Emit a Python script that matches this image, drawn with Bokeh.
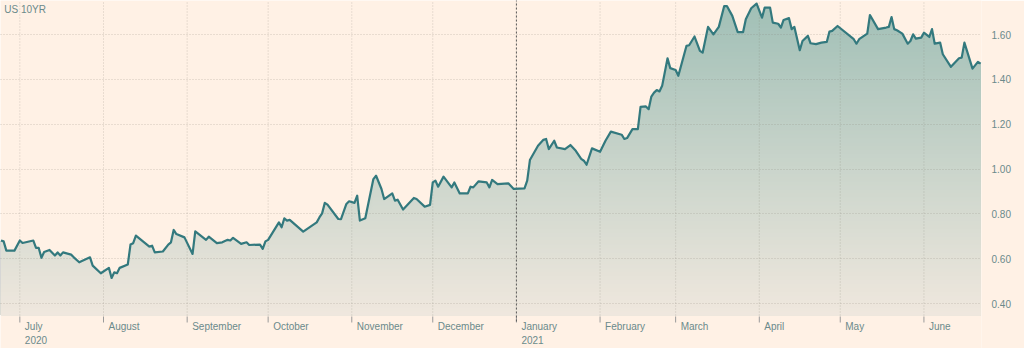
import numpy as np
import pandas as pd
from datetime import datetime
from bokeh.plotting import figure
from bokeh.models import FixedTicker, NumeralTickFormatter, Label, Range1d
from bokeh.core.properties import value
from bokeh.embed import file_html
from bokeh.resources import INLINE

# ---------------- data ----------------
dates = [
    "2020-06-24", "2020-06-25", "2020-06-26", "2020-06-29", "2020-07-01", "2020-07-02",
    "2020-07-06", "2020-07-07", "2020-07-08", "2020-07-09", "2020-07-10", "2020-07-12",
    "2020-07-14", "2020-07-15", "2020-07-16", "2020-07-17", "2020-07-20", "2020-07-21",
    "2020-07-23", "2020-07-27", "2020-07-28", "2020-07-31", "2020-08-03", "2020-08-04",
    "2020-08-05", "2020-08-06", "2020-08-07", "2020-08-10", "2020-08-11", "2020-08-12",
    "2020-08-13", "2020-08-18", "2020-08-19", "2020-08-20", "2020-08-23", "2020-08-25",
    "2020-08-26", "2020-08-27", "2020-08-28", "2020-08-31", "2020-09-03", "2020-09-04",
    "2020-09-08", "2020-09-09", "2020-09-12", "2020-09-14", "2020-09-16", "2020-09-17",
    "2020-09-18", "2020-09-21", "2020-09-23", "2020-09-24", "2020-09-28", "2020-09-29",
    "2020-09-30", "2020-10-01", "2020-10-05", "2020-10-06", "2020-10-07", "2020-10-08",
    "2020-10-09", "2020-10-14", "2020-10-19", "2020-10-20", "2020-10-21", "2020-10-22",
    "2020-10-23", "2020-10-27", "2020-10-28", "2020-10-30", "2020-10-31", "2020-11-02",
    "2020-11-03", "2020-11-04", "2020-11-06", "2020-11-09", "2020-11-10", "2020-11-12",
    "2020-11-13", "2020-11-16", "2020-11-17", "2020-11-18", "2020-11-20", "2020-11-24",
    "2020-11-25", "2020-11-28", "2020-11-30", "2020-12-01", "2020-12-02", "2020-12-03",
    "2020-12-05", "2020-12-08", "2020-12-09", "2020-12-11", "2020-12-14", "2020-12-15",
    "2020-12-16", "2020-12-18", "2020-12-21", "2020-12-22", "2020-12-23", "2020-12-25",
    "2020-12-29", "2020-12-31", "2021-01-04", "2021-01-05", "2021-01-06", "2021-01-09",
    "2021-01-11", "2021-01-12", "2021-01-13", "2021-01-15", "2021-01-16", "2021-01-19",
    "2021-01-21", "2021-01-23", "2021-01-25", "2021-01-26", "2021-01-27", "2021-01-29",
    "2021-02-01", "2021-02-03", "2021-02-05", "2021-02-09", "2021-02-10", "2021-02-11",
    "2021-02-13", "2021-02-15", "2021-02-16", "2021-02-18", "2021-02-19", "2021-02-20",
    "2021-02-21", "2021-02-22", "2021-02-23", "2021-02-24", "2021-02-26", "2021-02-27",
    "2021-03-01", "2021-03-02", "2021-03-05", "2021-03-06", "2021-03-08", "2021-03-10",
    "2021-03-11", "2021-03-13", "2021-03-15", "2021-03-17", "2021-03-19", "2021-03-20",
    "2021-03-22", "2021-03-24", "2021-03-26", "2021-03-27", "2021-03-29", "2021-03-31",
    "2021-04-02", "2021-04-03", "2021-04-05", "2021-04-06", "2021-04-08", "2021-04-09",
    "2021-04-10", "2021-04-12", "2021-04-13", "2021-04-14", "2021-04-16", "2021-04-17",
    "2021-04-19", "2021-04-20", "2021-04-22", "2021-04-24", "2021-04-26", "2021-04-27",
    "2021-04-28", "2021-04-30", "2021-05-06", "2021-05-07", "2021-05-08", "2021-05-11",
    "2021-05-12", "2021-05-15", "2021-05-18", "2021-05-19", "2021-05-20", "2021-05-21",
    "2021-05-22", "2021-05-24", "2021-05-26", "2021-05-27", "2021-05-28", "2021-05-29",
    "2021-05-31", "2021-06-01", "2021-06-03", "2021-06-04", "2021-06-05", "2021-06-07",
    "2021-06-08", "2021-06-11", "2021-06-14", "2021-06-15", "2021-06-16", "2021-06-19",
    "2021-06-21", "2021-06-22",
]
yields = [
    0.681, 0.677, 0.636, 0.636, 0.681, 0.670,
    0.681, 0.648, 0.648, 0.604, 0.630, 0.639,
    0.614, 0.628, 0.614, 0.628, 0.618, 0.606,
    0.584, 0.606, 0.569, 0.535, 0.559, 0.514,
    0.539, 0.535, 0.559, 0.574, 0.663, 0.669,
    0.703, 0.654, 0.658, 0.628, 0.632, 0.663,
    0.673, 0.728, 0.710, 0.695, 0.621, 0.722,
    0.684, 0.698, 0.669, 0.673, 0.684, 0.681,
    0.693, 0.666, 0.673, 0.661, 0.663, 0.644,
    0.677, 0.684, 0.762, 0.740, 0.780, 0.770,
    0.773, 0.721, 0.762, 0.784, 0.802, 0.849,
    0.841, 0.777, 0.776, 0.844, 0.856, 0.849,
    0.881, 0.770, 0.780, 0.955, 0.970, 0.911,
    0.866, 0.891, 0.859, 0.863, 0.819, 0.871,
    0.866, 0.832, 0.840, 0.940, 0.948, 0.921,
    0.966, 0.918, 0.940, 0.891, 0.891, 0.921,
    0.918, 0.945, 0.940, 0.918, 0.951, 0.933,
    0.936, 0.911, 0.914, 0.948, 1.040, 1.104,
    1.130, 1.134, 1.089, 1.126, 1.096, 1.089,
    1.107, 1.081, 1.045, 1.037, 1.019, 1.092,
    1.077, 1.126, 1.167, 1.153, 1.134, 1.138,
    1.178, 1.178, 1.277, 1.279, 1.267, 1.323,
    1.341, 1.352, 1.346, 1.371, 1.494, 1.450,
    1.442, 1.416, 1.549, 1.552, 1.591, 1.527,
    1.519, 1.634, 1.601, 1.634, 1.727, 1.727,
    1.683, 1.611, 1.611, 1.668, 1.717, 1.738,
    1.675, 1.720, 1.720, 1.653, 1.648, 1.631,
    1.665, 1.673, 1.624, 1.634, 1.530, 1.571,
    1.594, 1.561, 1.557, 1.564, 1.567, 1.613,
    1.616, 1.638, 1.579, 1.559, 1.579, 1.604,
    1.687, 1.624, 1.631, 1.634, 1.678, 1.624,
    1.619, 1.604, 1.559, 1.571, 1.601, 1.582,
    1.586, 1.608, 1.589, 1.624, 1.559, 1.564,
    1.512, 1.456, 1.494, 1.497, 1.564, 1.448,
    1.478, 1.470,
]
tick_dates = ["2020-07-01", "2020-08-01", "2020-09-01", "2020-10-01", "2020-11-01",
              "2020-12-01", "2021-01-01", "2021-02-01", "2021-03-01", "2021-04-01",
              "2021-05-01", "2021-06-01"]
tick_labels = ["July", "August", "September", "October", "November", "December",
               "January", "February", "March", "April", "May", "June"]
year_dates = ["2020-07-01", "2021-01-01"]
year_labels = ["2020", "2021"]
year_break = "2021-01-01"
y_ticks = [0.4, 0.6, 0.8, 1.0, 1.2, 1.4, 1.6]
series_name = "US 10YR"

# ---------------- styling / layout ----------------
BG = "#fff1e5"
LINE = "#33797e"
TEXT = "#6b8a8b"
GRID = "#7d7a70"
GRID_ALPHA = 0.35
FONT = "Liberation Sans"
H = 348
Y1 = 1.7517                 # top of the canvas
PPU = 224.17                # pixels per yield unit
Y_BOTTOM = Y1 - H / PPU     # bottom of the canvas
Y0 = Y1 - 315 / PPU         # bottom of the plotting area
px = lambda n: n / PPU      # vertical pixel distance in data units

x = pd.to_datetime(dates)
v = np.array(yields)
to_ms = lambda s: pd.Timestamp(s).value // 10**6
tick_ms = [to_ms(d) for d in tick_dates]

p = figure(width=1024, height=H, x_axis_type="datetime", y_axis_location="right",
           output_backend="svg", toolbar_location=None,
           x_range=Range1d(datetime(2020, 6, 23, 20), datetime(2021, 6, 22, 8)),
           y_range=Range1d(Y_BOTTOM, Y1),
           min_border_left=0, min_border_top=0, min_border_right=43, min_border_bottom=0)
p.background_fill_color = BG
p.border_fill_color = BG
p.outline_line_color = None
p.xaxis.visible = False

# gradient area: overlapping bands, drawn from the top colour downwards
bottom_rgb = np.array([240, 232, 222])
top_rgb = np.array([160, 191, 182])
levels = np.linspace(Y0, Y1, 81)[1:]
for hi in levels[::-1]:
    if hi - px(4) > v.max():
        continue
    t = (hi - Y0) / (Y1 - Y0)
    c = bottom_rgb + (top_rgb - bottom_rgb) * t
    col = "#%02x%02x%02x" % tuple(int(round(k)) for k in c)
    p.varea(x=x, y1=np.full(len(v), Y0), y2=np.minimum(v, hi), fill_color=col)

# horizontal grid from the value axis
p.yaxis.ticker = FixedTicker(ticks=y_ticks)
p.yaxis.formatter = NumeralTickFormatter(format="0.00")
p.yaxis.axis_line_color = None
p.yaxis.major_tick_line_color = None
p.yaxis.minor_tick_line_color = None
p.yaxis.major_label_standoff = 4
p.yaxis.major_label_text_font = FONT
p.yaxis.major_label_text_font_size = "10px"
p.yaxis.major_label_text_color = TEXT
p.ygrid.grid_line_color = GRID
p.ygrid.grid_line_alpha = GRID_ALPHA
p.ygrid.grid_line_dash = "1 2"
p.ygrid.level = "guide"
p.xgrid.visible = False

# vertical month grid lines, tick marks and year break
n = len(tick_ms)
vg = p.segment(x0=tick_ms, x1=tick_ms, y0=[Y0] * n, y1=[Y1] * n,
               line_color=GRID, line_alpha=GRID_ALPHA, line_dash="1 2", line_width=1)
vg.level = "guide"
p.segment(x0=tick_ms, x1=tick_ms, y0=[Y0 - px(1)] * n, y1=[Y0 - px(7)] * n,
          line_color="#9a9a9a", line_width=1)
yb = p.segment(x0=[to_ms(year_break)], x1=[to_ms(year_break)], y0=[Y0 - px(6)], y1=[Y1],
               line_color="#5a5a5a", line_dash="2 2", line_width=1)
yb.level = "guide"

line_r = p.line(x=x, y=v, line_color=LINE, line_width=2.2, line_join="round")
line_r.level = "overlay"

# month / year labels
p.text(x=tick_ms, y=[Y0 - px(11)] * n, text=tick_labels, x_offset=5,
       text_align="left", text_baseline="middle", text_font=value(FONT),
       text_font_size="10px", text_color=TEXT)
p.text(x=[to_ms(d) for d in year_dates], y=[Y0 - px(24.5)] * len(year_dates),
       text=year_labels, x_offset=5, text_align="left", text_baseline="middle",
       text_font=value(FONT), text_font_size="10px", text_color=TEXT)

p.add_layout(Label(x=to_ms("2020-06-23"), y=Y1, x_offset=6, y_offset=-3, text=series_name,
                   text_align="left", text_baseline="top", text_font=FONT,
                   text_font_size="10px", text_color=TEXT))

open("out.html", "w").write(file_html(p, INLINE))
